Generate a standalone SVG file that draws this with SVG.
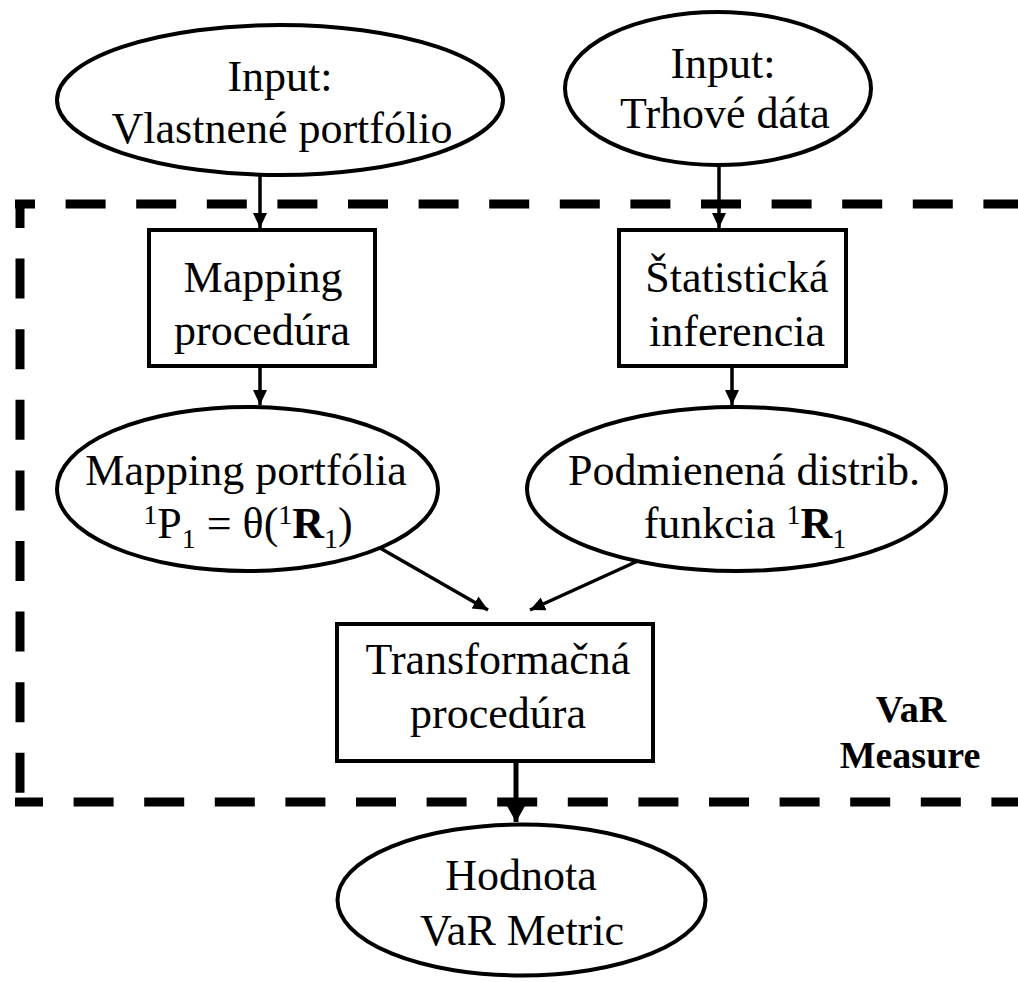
<svg xmlns="http://www.w3.org/2000/svg" width="1018" height="982" viewBox="0 0 1018 982">
<style>
  .shape { fill: #fff; stroke: #000; stroke-width: 4; }
  .t { font-family: "Liberation Serif", "Times New Roman", serif; font-size: 44px; fill: #000; text-anchor: middle; }
  .b { font-family: "Liberation Serif", "Times New Roman", serif; font-size: 38px; font-weight: bold; fill: #000; text-anchor: middle; }
  .sm { font-size: 28px; }
  .bold { font-weight: bold; }
  .conn { stroke: #000; stroke-width: 3.5; fill: none; marker-end: url(#ah); }
  .dash { stroke: #000; stroke-width: 9; fill: none; stroke-dasharray: 40 30.6; }
</style>
<defs>
  <marker id="ah" markerUnits="userSpaceOnUse" markerWidth="16" markerHeight="16" refX="15" refY="7" orient="auto">
    <path d="M0,0 L15,7 L0,14 z" fill="#000"/>
  </marker>
  <marker id="ahBig" markerUnits="userSpaceOnUse" markerWidth="18" markerHeight="18" refX="16" refY="9" orient="auto">
    <path d="M0,0 L16,9 L0,18 z" fill="#000"/>
  </marker>
</defs>
<rect width="1018" height="982" fill="#fff"/>

<g id="frame">
  <path class="dash" d="M15,204 H1030" stroke-dashoffset="20"/>
  <path class="dash" d="M20,200 V806" stroke-dashoffset="12"/>
  <path class="dash" d="M15,802 H1030" stroke-dashoffset="12"/>
  <path class="dash" d="M1023,200 V806"/>
</g>

<g id="connectors">
  <line class="conn" x1="260" y1="175" x2="260" y2="228"/>
  <line class="conn" x1="719" y1="165" x2="719" y2="228"/>
  <line class="conn" x1="260" y1="368" x2="260" y2="405"/>
  <line class="conn" x1="732" y1="368" x2="732" y2="405"/>
  <line class="conn" x1="380" y1="548" x2="488" y2="610" stroke-width="4"/>
  <line class="conn" x1="640" y1="560" x2="530" y2="610" stroke-width="4"/>
  <line x1="516" y1="763" x2="516" y2="822" stroke="#000" stroke-width="5" marker-end="url(#ahBig)"/>
</g>

<g id="input-portfolio">
  <ellipse class="shape" cx="280" cy="100" rx="223" ry="75" stroke-width="3.5"/>
  <text class="t" x="280" y="91">Input:</text>
  <text class="t" x="282" y="143">Vlastnené portfólio</text>
</g>

<g id="input-market">
  <ellipse class="shape" cx="718" cy="88.5" rx="153" ry="76.5" stroke-width="3.5"/>
  <text class="t" x="723" y="78">Input:</text>
  <text class="t" x="725" y="128">Trhové dáta</text>
</g>

<g id="mapping-procedure">
  <rect class="shape" x="149" y="230" width="226" height="136"/>
  <text class="t" x="263" y="292">Mapping</text>
  <text class="t" x="262" y="345">procedúra</text>
</g>

<g id="statistical-inference">
  <rect class="shape" x="619" y="230" width="227" height="136"/>
  <text class="t" x="737" y="292">Štatistická</text>
  <text class="t" x="737" y="346">inferencia</text>
</g>

<g id="portfolio-mapping">
  <ellipse class="shape" cx="247.5" cy="489" rx="190.5" ry="82"/>
  <text class="t" x="246" y="485">Mapping portfólia</text>
  <text class="t" x="248" y="538"><tspan class="sm" dy="-14">1</tspan><tspan dy="14">P</tspan><tspan class="sm" dy="10">1</tspan><tspan dy="-10"> = θ(</tspan><tspan class="sm" dy="-14">1</tspan><tspan class="bold" dy="14">R</tspan><tspan class="sm" dy="10">1</tspan><tspan dy="-10">)</tspan></text>
</g>

<g id="conditional-distribution">
  <ellipse class="shape" cx="736.5" cy="489" rx="209.5" ry="82"/>
  <text class="t" x="744" y="485">Podmienená distrib.</text>
  <text class="t" x="745" y="538">funkcia <tspan class="sm" dy="-14">1</tspan><tspan class="bold" dy="14">R</tspan><tspan class="sm" dy="10">1</tspan></text>
</g>

<g id="transformation">
  <rect class="shape" x="337" y="624" width="316" height="137"/>
  <text class="t" x="498" y="674">Transformačná</text>
  <text class="t" x="498" y="728">procedúra</text>
</g>

<g id="var-measure-label">
  <text class="b" x="911" y="722">VaR</text>
  <text class="b" x="910" y="768">Measure</text>
</g>

<g id="var-metric">
  <ellipse class="shape" cx="521.5" cy="900" rx="184" ry="75.5" stroke-width="5"/>
  <text class="t" x="521" y="890">Hodnota</text>
  <text class="t" x="522" y="945">VaR Metric</text>
</g>
</svg>
